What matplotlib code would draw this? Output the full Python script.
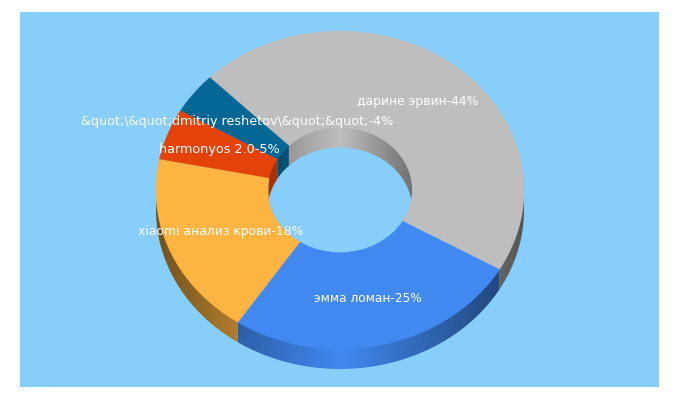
import numpy as np
import matplotlib
matplotlib.use("Agg")
import matplotlib.pyplot as plt
from matplotlib.colors import to_rgb
from matplotlib.patches import Polygon

# slices, clockwise from the start angle
names = ["дарине эрвин", "эмма ломан", "xiaomi анализ крови", "harmonyos 2.0",
         "&quot;\\&quot;dmitriy reshetov\\&quot;&quot;"]
shares = [44, 25, 18, 5, 4]
colors = ["#bebebe", "#4189f1", "#fdb441", "#e34209", "#056795"]
label_xy = [(417.5, 101), (368, 298), (221, 232), (219.5, 150), (237.5, 122)]
label_pt = [8.95, 8.75, 8.95, 9.2, 9.2]

panel = "#87cefa"
cx, cy = 340, 190
rx, ry = 184, 159
hole = 0.393
depth = 20
start = 315


def ell(a, r=1.0, dy=0):
    # angle in degrees, clockwise from 12 o'clock, y axis points down
    t = np.radians(a)
    return cx + r * rx * np.sin(t), cy - r * ry * np.cos(t) + dy


def wall(ax, a0, a1, c, r, lo, hi):
    # side band of a slice between angles lo and hi, shaded across x
    lo, hi = max(a0, lo), min(a1, hi)
    if lo >= hi:
        return
    aa = np.linspace(lo, hi, 120)
    x, y = ell(aa, r)
    poly = Polygon(np.c_[np.r_[x, x[::-1]], np.r_[y - 0.5, y[::-1] + depth]],
                   fc="none", ec="none", transform=ax.transData)
    ax.add_patch(poly)
    xs = np.arange(x.min() - 1, x.max() + 2)
    d = (xs - cx) / (r * rx)
    if r == 1.0:
        k = 1 - 0.55 * np.abs(d)
    else:
        k = 1 - np.where(d < 0, 0.28, 0.4) * np.abs(d)
    strip = np.clip(np.outer(k, to_rgb(c)), 0, 1)[None, :, :]
    im = ax.imshow(strip, extent=(xs[0], xs[-1], 400, 0), aspect="auto",
                   interpolation="bilinear", zorder=1)
    im.set_clip_path(poly)


fig = plt.figure(figsize=(6.8, 4.0), dpi=100)
ax = fig.add_axes([0, 0, 1, 1])
ax.fill([20, 659, 659, 20], [12, 12, 387, 387], color=panel, lw=0, zorder=0)

edges = start + np.cumsum([0] + shares) * 360 / sum(shares)
spans = list(zip(edges[:-1], edges[1:]))

for (a0, a1), c in zip(spans, colors):
    for lap in (-360, 0, 360):
        wall(ax, a0, a1, c, 1.0, 90 + lap, 270 + lap)      # outer, front half
        wall(ax, a0, a1, c, hole, 270 + lap, 450 + lap)    # inner, back half

# top face
for (a0, a1), c in zip(spans, colors):
    aa = np.linspace(a0, a1, 200)
    xo, yo = ell(aa)
    xi, yi = ell(aa[::-1], hole)
    ax.fill(np.r_[xo, xi], np.r_[yo, yi], color=c, lw=0.3, zorder=2)

for name, share, (x, y), pt in zip(names, shares, label_xy, label_pt):
    ax.text(x, y, f"{name}-{share}%", color="white", ha="center", va="center",
            fontsize=pt, family="DejaVu Sans", zorder=3)

ax.set_xlim(0, 680)
ax.set_ylim(400, 0)
ax.axis("off")
fig.savefig("out.png", dpi=100)
